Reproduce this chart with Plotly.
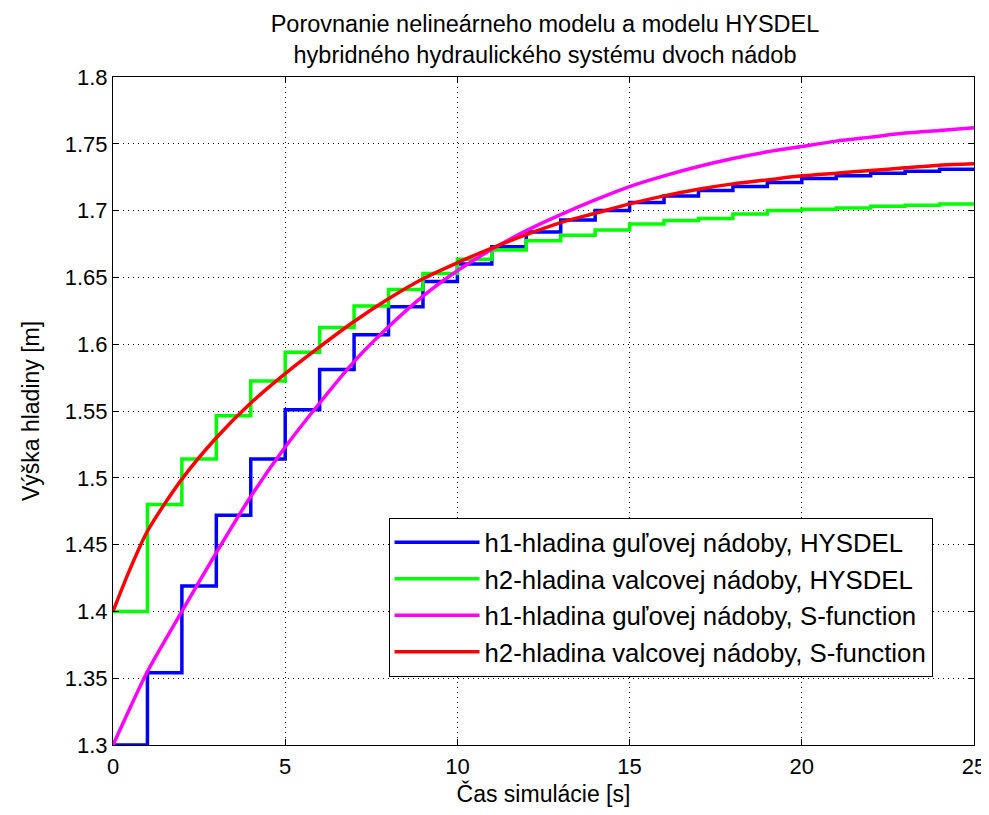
import plotly.graph_objects as go

# time axis
t_steps = list(range(0, 26))
t_smooth = [0, 0.5, 1, 2, 3, 4, 5, 6, 7, 8, 9, 10, 11, 12, 13, 14, 15, 16, 17, 18, 19, 20, 21, 22, 23, 24, 25]

# HYSDEL (step) series, value held on [k, k+1)
h1_hysdel = [1.300, 1.354, 1.419, 1.472, 1.514, 1.551, 1.581, 1.607, 1.628, 1.647,
             1.660, 1.673, 1.684, 1.693, 1.700, 1.706, 1.711, 1.715, 1.718, 1.721,
             1.724, 1.726, 1.728, 1.7295, 1.731, 1.731]
h2_hysdel = [1.400, 1.480, 1.514, 1.5465, 1.5725, 1.594, 1.6125, 1.6285, 1.641, 1.653,
             1.6635, 1.6705, 1.6775, 1.6815, 1.6855, 1.690, 1.6925, 1.694, 1.6975, 1.700,
             1.701, 1.702, 1.7033, 1.704, 1.705, 1.705]

# S-function (continuous) series
h1_sfun = [1.300, 1.328, 1.355, 1.400, 1.444, 1.486, 1.523, 1.556, 1.587, 1.613, 1.636,
           1.655, 1.671, 1.685, 1.697, 1.708, 1.718, 1.726, 1.733, 1.739, 1.744,
           1.748, 1.752, 1.755, 1.758, 1.760, 1.762]
h2_sfun = [1.400, 1.432, 1.460, 1.499, 1.530, 1.556, 1.578, 1.598, 1.617, 1.634, 1.649,
           1.661, 1.672, 1.682, 1.691, 1.698, 1.705, 1.711, 1.716, 1.720, 1.723,
           1.726, 1.728, 1.730, 1.732, 1.734, 1.735]

x_ticks = [0, 5, 10, 15, 20, 25]
x_tick_labels = ["0", "5", "10", "15", "20", "25"]
y_ticks = [1.3, 1.35, 1.4, 1.45, 1.5, 1.55, 1.6, 1.65, 1.7, 1.75, 1.8]
y_tick_labels = ["1.3", "1.35", "1.4", "1.45", "1.5", "1.55", "1.6", "1.65", "1.7", "1.75", "1.8"]

names = ["h1-hladina guľovej nádoby, HYSDEL",
         "h2-hladina valcovej nádoby, HYSDEL",
         "h1-hladina guľovej nádoby, S-function",
         "h2-hladina valcovej nádoby, S-function"]
colors = ["#0000FF", "#00FF00", "#FF00FF", "#FF0000"]

fig = go.Figure()
fig.add_trace(go.Scatter(x=t_steps, y=h1_hysdel, mode="lines", name=names[0],
                         line=dict(color=colors[0], width=3.5, shape="hv")))
fig.add_trace(go.Scatter(x=t_steps, y=h2_hysdel, mode="lines", name=names[1],
                         line=dict(color=colors[1], width=3.5, shape="hv")))
fig.add_trace(go.Scatter(x=t_smooth, y=h1_sfun, mode="lines", name=names[2],
                         line=dict(color=colors[2], width=3.5, shape="spline", smoothing=0.8)))
fig.add_trace(go.Scatter(x=t_smooth, y=h2_sfun, mode="lines", name=names[3],
                         line=dict(color=colors[3], width=3.5, shape="spline", smoothing=0.8)))

font_family = "Liberation Sans, Arial, sans-serif"
axis_common = dict(
    showline=True, linecolor="black", linewidth=1, mirror="allticks",
    ticks="inside", ticklen=6, tickcolor="black",
    showgrid=True, gridcolor="black", gridwidth=1, griddash="1px,4px",
    zeroline=False, automargin=False,
    tickfont=dict(family=font_family, size=22, color="black"),
)

W, H = 989, 799
fig.update_layout(
    width=W, height=H,
    paper_bgcolor="white", plot_bgcolor="white",
    margin=dict(l=105, r=23, t=69, b=62),
    font=dict(family=font_family, color="black"),
    title=dict(
        text="Porovnanie nelineárneho modelu a modelu HYSDEL<br>hybridného hydraulického systému dvoch nádob",
        x=537 / W, xanchor="center", yref="container", y=1 - 24 / H, yanchor="middle",
        font=dict(family=font_family, size=23.5, color="black"),
    ),
    xaxis=dict(range=[0, 25], tickvals=x_ticks, ticktext=x_tick_labels,
               ticklabelstandoff=2,
               title=dict(text="Čas simulácie [s]", font=dict(family=font_family, size=23), standoff=12),
               **axis_common),
    yaxis=dict(range=[1.3, 1.8], tickvals=y_ticks, ticktext=y_tick_labels,
               title=dict(text="Výška hladiny [m]", font=dict(family=font_family, size=23), standoff=18),
               **axis_common),
    legend=dict(
        x=0.320, y=0.34, xanchor="left", yanchor="top",
        bgcolor="white", bordercolor="black", borderwidth=1,
        font=dict(family=font_family, size=25.8, color="black"),
        itemwidth=85, tracegroupgap=0,
    ),
    showlegend=True,
)

fig.write_html("out.html")
